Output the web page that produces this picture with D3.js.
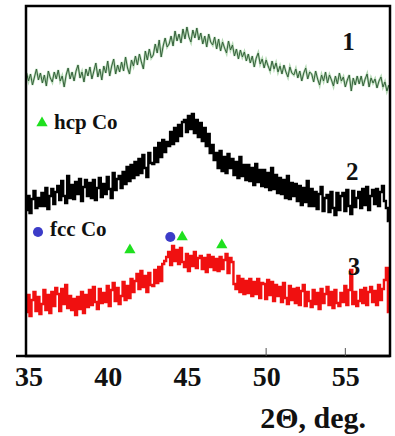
<!DOCTYPE html>
<html>
<head>
<meta charset="utf-8">
<script src="https://cdn.jsdelivr.net/npm/d3@7"></script>
<style>
  body { margin: 0; background: #fff; }
  text { font-family: "Liberation Serif", "Times New Roman", serif; font-weight: bold; fill: #111; }
</style>
</head>
<body>
<div id="chart"></div>
<script>
// XRD patterns, intensity in arbitrary units (curves are offset vertically)
var width = 395;
var height = 436;

var twoTheta = [
  34.875, 35, 35.125, 35.25, 35.375, 35.5, 35.625, 35.75,
  35.875, 36, 36.125, 36.25, 36.375, 36.5, 36.625, 36.75,
  36.875, 37, 37.125, 37.25, 37.375, 37.5, 37.625, 37.75,
  37.875, 38, 38.125, 38.25, 38.375, 38.5, 38.625, 38.75,
  38.875, 39, 39.125, 39.25, 39.375, 39.5, 39.625, 39.75,
  39.875, 40, 40.125, 40.25, 40.375, 40.5, 40.625, 40.75,
  40.875, 41, 41.125, 41.25, 41.375, 41.5, 41.625, 41.75,
  41.875, 42, 42.125, 42.25, 42.375, 42.5, 42.625, 42.75,
  42.875, 43, 43.125, 43.25, 43.375, 43.5, 43.625, 43.75,
  43.875, 44, 44.125, 44.25, 44.375, 44.5, 44.625, 44.75,
  44.875, 45, 45.125, 45.25, 45.375, 45.5, 45.625, 45.75,
  45.875, 46, 46.125, 46.25, 46.375, 46.5, 46.625, 46.75,
  46.875, 47, 47.125, 47.25, 47.375, 47.5, 47.625, 47.75,
  47.875, 48, 48.125, 48.25, 48.375, 48.5, 48.625, 48.75,
  48.875, 49, 49.125, 49.25, 49.375, 49.5, 49.625, 49.75,
  49.875, 50, 50.125, 50.25, 50.375, 50.5, 50.625, 50.75,
  50.875, 51, 51.125, 51.25, 51.375, 51.5, 51.625, 51.75,
  51.875, 52, 52.125, 52.25, 52.375, 52.5, 52.625, 52.75,
  52.875, 53, 53.125, 53.25, 53.375, 53.5, 53.625, 53.75,
  53.875, 54, 54.125, 54.25, 54.375, 54.5, 54.625, 54.75,
  54.875, 55, 55.125, 55.25, 55.375, 55.5, 55.625, 55.75,
  55.875, 56, 56.125, 56.25, 56.375, 56.5, 56.625, 56.75,
  56.875, 57, 57.125, 57.25, 57.375, 57.5, 57.625, 57.75];

var curve1 = [
  283, 275, 282, 271, 279, 287, 276, 283,
  273, 281, 270, 285, 278, 274, 284, 277,
  286, 275, 280, 269, 281, 288, 277, 284,
  275, 285, 291, 278, 284, 274, 287, 280,
  289, 277, 285, 293, 279, 287, 276, 290,
  283, 295, 280, 290, 297, 282, 291, 284,
  294, 285, 299, 288, 282, 296, 290, 300,
  291, 302, 294, 287, 305, 296, 307, 298,
  301, 312, 303, 316, 299, 310, 318, 309,
  312, 320, 310, 325, 315, 322, 313, 327,
  317, 329, 319, 314, 326, 318, 328, 316,
  323, 312, 320, 309, 322, 314, 311, 319,
  307, 317, 305, 314, 308, 303, 315, 306,
  311, 300, 307, 297, 306, 299, 304, 295,
  302, 293, 300, 289, 298, 303, 292, 297,
  288, 296, 290, 285, 295, 287, 293, 284,
  290, 282, 291, 284, 279, 289, 283, 281,
  287, 278, 285, 275, 283, 288, 277, 284,
  282, 274, 285, 277, 271, 281, 275, 284,
  273, 281, 276, 270, 280, 272, 283, 275,
  279, 269, 276, 281, 265, 278, 271, 280,
  272, 280, 270, 277, 282, 269, 278, 273,
  277, 268, 275, 279, 269, 274, 265, 271];

var curve2 = [
  146, 160, 143, 157, 165, 148, 158, 150,
  163, 150, 168, 147, 160, 167, 152, 164,
  170, 156, 175, 160, 153, 180, 158, 171,
  157, 174, 162, 177, 155, 169, 176, 160,
  173, 158, 176, 156, 168, 178, 159, 172,
  162, 179, 167, 158, 183, 166, 177, 180,
  168, 184, 172, 189, 175, 191, 178, 194,
  181, 197, 183, 201, 188, 179, 203, 193,
  192, 208, 194, 213, 199, 216, 204, 214,
  210, 224, 212, 228, 215, 231, 220, 234,
  236, 224, 240, 227, 242, 223, 236, 219,
  233, 215, 228, 210, 222, 203, 211, 196,
  203, 188, 205, 185, 199, 183, 202, 188,
  197, 181, 194, 178, 199, 180, 191, 176,
  191, 175, 188, 171, 192, 174, 186, 170,
  186, 169, 183, 166, 188, 167, 181, 163,
  178, 162, 176, 158, 180, 157, 173, 160,
  172, 155, 170, 151, 168, 154, 175, 150,
  167, 150, 164, 147, 162, 169, 145, 158,
  161, 144, 164, 148, 141, 163, 146, 160,
  163, 145, 166, 150, 142, 165, 149, 158,
  164, 148, 167, 151, 169, 146, 160, 166,
  152, 167, 150, 164, 170, 155, 148, 135];

var curve3 = [
  44, 61, 40, 56, 64, 45, 59, 42,
  52, 66, 46, 61, 43, 64, 50, 68,
  62, 45, 67, 52, 71, 48, 60, 46,
  57, 41, 59, 47, 64, 43, 61, 49,
  66, 51, 69, 54, 47, 67, 53, 63,
  54, 70, 50, 66, 73, 55, 68, 52,
  60, 74, 56, 70, 58, 77, 64, 75,
  82, 67, 85, 69, 80, 64, 83, 71,
  70, 86, 73, 89, 75, 92, 95, 99,
  104, 91, 110, 95, 106, 92, 108, 94,
  89, 102, 85, 100, 90, 104, 88, 98,
  100, 87, 98, 84, 101, 89, 99, 86,
  97, 85, 99, 87, 96, 102, 83, 98,
  94, 72, 67, 80, 64, 77, 62, 75,
  63, 77, 60, 74, 62, 77, 58, 73,
  72, 57, 76, 61, 74, 55, 71, 60,
  69, 54, 73, 58, 52, 70, 56, 67,
  53, 68, 51, 65, 71, 50, 64, 55,
  49, 66, 52, 63, 47, 67, 53, 62,
  69, 51, 64, 48, 66, 53, 50, 63,
  54, 70, 51, 66, 86, 52, 64, 50,
  55, 66, 53, 68, 51, 64, 69, 54,
  65, 51, 71, 56, 67, 76, 88, 44];

var curveLabels = ["1", "2", "3"];
var labelAngles = [54.8, 55.05, 55.15];
var labelLevels = [306, 176, 81];

var hcpPeaks = [41.4, 44.7, 47.2];
var hcpLevels = [106, 119, 111];
var fccPeaks = [43.95];
var fccLevels = [119];

var xTicks = [35, 40, 45, 50, 55];
var xMarks = [50, 55];

var svg = d3.select("#chart").append("svg")
    .attr("width", width)
    .attr("height", height);

var x = d3.scaleLinear().domain([34.84, 57.82]).range([26, 390]);
var y = d3.scaleLinear().domain([0, 350]).range([356, 6]);

function series(vals) {
    return twoTheta.map(function(t, i) { return [t, vals[i]]; });
}

var line = d3.line()
    .x(function(d) { return x(d[0]); })
    .y(function(d) { return y(d[1]); });

var stepLine = d3.line()
    .curve(d3.curveStep)
    .x(function(d) { return x(d[0]); })
    .y(function(d) { return y(d[1]); });

// curve 1 - thin green
svg.append("path")
    .datum(series(curve1))
    .attr("d", line)
    .attr("fill", "none")
    .attr("stroke", "#b5d9b5")
    .attr("stroke-width", 2.4);
svg.append("path")
    .datum(series(curve1))
    .attr("d", line)
    .attr("fill", "none")
    .attr("stroke", "#35603b")
    .attr("stroke-width", 1);

// curve 2 - black
svg.append("path")
    .datum(series(curve2))
    .attr("d", stepLine)
    .attr("fill", "none")
    .attr("stroke", "#000")
    .attr("stroke-width", 2.4);

// curve 3 - red
svg.append("path")
    .datum(series(curve3))
    .attr("d", stepLine)
    .attr("fill", "none")
    .attr("stroke", "#f01010")
    .attr("stroke-width", 2.4);

// frame
svg.append("path")
    .attr("d", "M" + x.range()[0] + "," + y(350) + "H" + x.range()[1] + "V" + y(0) + "H" + x.range()[0] + "Z")
    .attr("fill", "none")
    .attr("stroke", "#000")
    .attr("stroke-width", 2.5);

// x axis
var xAxis = d3.axisBottom(x)
    .tickValues(xTicks)
    .tickSize(0)
    .tickPadding(10);
var gx = svg.append("g")
    .attr("transform", "translate(0," + y(0) + ")")
    .call(xAxis);
gx.select(".domain")
    .attr("d", "M16,0H" + x.range()[1])
    .attr("stroke", "#000")
    .attr("stroke-width", 2.5);
gx.selectAll(".tick text")
    .attr("font-size", 28)
    .attr("font-family", "Liberation Serif, Times New Roman, serif")
    .attr("font-weight", "bold")
    .attr("fill", "#111");

svg.selectAll(".xmark")
    .data(xMarks)
    .enter()
    .append("line")
    .attr("class", "xmark")
    .attr("x1", function(d) { return x(d); })
    .attr("x2", function(d) { return x(d); })
    .attr("y1", y(0))
    .attr("y2", y(0) - 8)
    .attr("stroke", "#555")
    .attr("stroke-width", 1);

svg.append("text")
    .attr("x", 366)
    .attr("y", 428)
    .attr("text-anchor", "end")
    .attr("font-size", 30)
    .text("2\u0398, deg.");

// curve numbers
svg.selectAll(".clabel")
    .data(curveLabels)
    .enter()
    .append("text")
    .attr("class", "clabel")
    .attr("x", function(d, i) { return x(labelAngles[i]); })
    .attr("y", function(d, i) { return y(labelLevels[i]); })
    .attr("font-size", 25)
    .text(function(d) { return d; });

// phase markers
var tri = d3.symbol().type(d3.symbolTriangle).size(55);
var dot = d3.symbol().type(d3.symbolCircle).size(80);

svg.selectAll(".hcp")
    .data(hcpPeaks)
    .enter()
    .append("path")
    .attr("class", "hcp")
    .attr("d", tri)
    .attr("transform", function(d, i) { return "translate(" + x(d) + "," + y(hcpLevels[i]) + ")"; })
    .attr("fill", "#1fe01f");

svg.selectAll(".fcc")
    .data(fccPeaks)
    .enter()
    .append("path")
    .attr("class", "fcc")
    .attr("d", dot)
    .attr("transform", function(d, i) { return "translate(" + x(d) + "," + y(fccLevels[i]) + ")"; })
    .attr("fill", "#3c3cc8");

// legend
svg.append("path").attr("d", tri).attr("transform", "translate(42,123)").attr("fill", "#1fe01f");
svg.append("text").attr("x", 54).attr("y", 129).attr("font-size", 21).text("hcp Co");
svg.append("path").attr("d", dot).attr("transform", "translate(38,232)").attr("fill", "#3c3cc8");
svg.append("text").attr("x", 50).attr("y", 236).attr("font-size", 21).text("fcc Co");
</script>
</body>
</html>
